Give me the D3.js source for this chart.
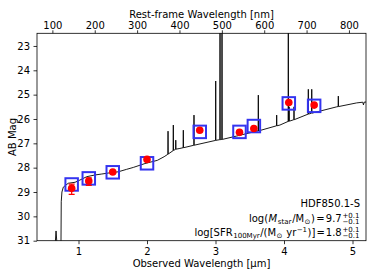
<!DOCTYPE html>
<html><head><meta charset="utf-8">
<script src="https://cdn.jsdelivr.net/npm/d3@7"></script>
<style>
body{margin:0;background:#fff;}
svg{display:block;font-family:"DejaVu Sans",sans-serif;}
</style></head>
<body><svg id="c" width="374" height="280"></svg>
<script>
// ---------------- data ----------------
const redshift = 5.185;
const xTicks = [1, 2, 3, 4, 5];
const restTicks = [100, 200, 300, 400, 500, 600, 700, 800];
const yTicks = [23, 24, 25, 26, 27, 28, 29, 30, 31];

// observed photometry (micron, AB mag, error down, error up)
const photWave = [0.90, 1.15, 1.50, 2.00, 2.77, 3.35, 3.56, 4.07, 4.44];
const photMag  = [28.85, 28.55, 28.18, 27.66, 26.46, 26.55, 26.39, 25.32, 25.43];
const photErrLo = [0.17, 0.13, 0.06, 0.05, 0.04, 0.04, 0.04, 0.04, 0.04];
const photErrHi = [0.25, 0.18, 0.06, 0.05, 0.04, 0.04, 0.04, 0.04, 0.04];
// model photometry (blue squares)
const modelMag = [28.69, 28.44, 28.19, 27.82, 26.53, 26.53, 26.29, 25.36, 25.46];

// model spectrum (micron, AB mag)
const specWave = [0.39, 0.640, 0.672, 0.708, 0.742, 0.748, 0.758, 0.778, 0.85, 0.95, 1.02, 1.12, 1.24, 1.34, 1.46, 1.58, 1.70, 1.80, 1.97, 2.15, 2.25,
  2.304, 2.307, 2.310, 2.381, 2.384, 2.387, 2.417, 2.420, 2.423, 2.48, 2.527, 2.530, 2.533, 2.683, 2.686, 2.689,
  2.70, 3.000, 3.003, 3.006, 3.02, 3.063, 3.066, 3.069, 3.092, 3.095, 3.098, 3.31, 3.60, 3.622, 3.625, 3.628,
  3.890, 3.893, 3.896, 3.94, 4.060, 4.063, 4.066, 4.072, 4.075, 4.078, 4.143, 4.146, 4.149, 4.352, 4.355, 4.358,
  4.402, 4.405, 4.408, 4.77, 4.790, 4.793, 4.796, 5.06, 5.15, 5.16, 5.17, 5.21];
const specMag = [32, 32, 30.6, 32, 32, 29.4, 29.0, 28.8, 28.64, 28.6, 28.51, 28.37, 28.30, 28.26, 28.21, 28.17, 28.07, 27.99, 27.83, 27.70, 27.55,
  27.45, 26.50, 27.44, 27.30, 26.25, 27.29, 27.25, 26.87, 27.24, 27.21, 27.18, 26.46, 27.18, 27.08, 25.84, 27.08,
  27.07, 26.88, 24.44, 26.88, 26.87, 26.85, 21, 26.85, 26.84, 21, 26.84, 26.70, 26.50, 26.49, 25.02, 26.49,
  26.28, 25.84, 26.28, 26.25, 26.10, 21, 26.10, 26.09, 25.50, 26.09, 26.03, 25.50, 26.03, 25.80, 24.78, 25.80,
  25.76, 24.78, 25.76, 25.50, 25.49, 25.06, 25.49, 25.34, 25.31, 25.42, 25.31, 25.30];

const infoLines = ["HDF850.1-S"];

// ---------------- layout ----------------
const L = 37, R = 366, T = 33.3, B = 240.7;
const svg = d3.select("#c");
const x = d3.scaleLinear().domain([0.394, 5.197]).range([L, R]);
const y = d3.scaleLinear().domain([31, 22.48]).range([B, T]);
const xRest = d3.scaleLinear().domain([0.394 / (1 + redshift) * 1000, 5.197 / (1 + redshift) * 1000]).range([L, R]);

svg.append("defs").append("clipPath").attr("id", "clip")
  .append("rect").attr("x", L).attr("y", T).attr("width", R - L).attr("height", B - T);

const plot = svg.append("g").attr("clip-path", "url(#clip)");

// spectrum
const spec = specWave.map((w, i) => [w, specMag[i]]);
plot.append("path").datum(spec)
  .attr("d", d3.line().x(d => x(d[0])).y(d => y(d[1])))
  .attr("fill", "none").attr("stroke", "#000").attr("stroke-width", 0.9);

// model squares
const sq = 12.5;
plot.selectAll("rect.m").data(photWave).enter().append("rect")
  .attr("x", (d) => x(d) - sq / 2)
  .attr("y", (d, i) => y(modelMag[i]) - sq / 2)
  .attr("width", sq).attr("height", sq)
  .attr("fill", "none").attr("stroke", "#3434f0").attr("stroke-width", 2);

// error bars
const eb = plot.append("g").attr("stroke", "#ff0000").attr("stroke-width", 1.2);
photWave.forEach((w, i) => {
  const y1 = y(photMag[i] - photErrLo[i]), y2 = y(photMag[i] + photErrHi[i]);
  eb.append("line").attr("x1", x(w)).attr("x2", x(w)).attr("y1", y1).attr("y2", y2);
  eb.append("line").attr("x1", x(w) - 3).attr("x2", x(w) + 3).attr("y1", y1).attr("y2", y1);
  eb.append("line").attr("x1", x(w) - 3).attr("x2", x(w) + 3).attr("y1", y2).attr("y2", y2);
});
plot.selectAll("circle.p").data(photWave).enter().append("circle")
  .attr("cx", d => x(d)).attr("cy", (d, i) => y(photMag[i])).attr("r", 3.8)
  .attr("fill", "#ff0000");

// axes
function style(g) {
  g.selectAll(".domain").remove();
  g.selectAll(".tick line").attr("stroke", "#000").attr("stroke-width", 0.8);
  g.selectAll(".tick text").attr("font-size", 10).attr("fill", "#000").attr("font-family", "DejaVu Sans");
}
svg.append("g").attr("transform", `translate(0,${B})`)
  .call(d3.axisBottom(x).tickValues(xTicks).tickSize(3.5).tickPadding(3.5).tickFormat(d3.format("d"))).call(style);
svg.append("g").attr("transform", `translate(${L},0)`)
  .call(d3.axisLeft(y).tickValues(yTicks).tickSize(3.5).tickPadding(3.5).tickFormat(d3.format("d"))).call(style);
svg.append("g").attr("transform", `translate(0,${T})`)
  .call(d3.axisTop(xRest).tickValues(restTicks).tickSize(3).tickPadding(1.3).tickFormat(d3.format("d"))).call(style);

svg.append("rect").attr("x", L).attr("y", T).attr("width", R - L).attr("height", B - T)
  .attr("fill", "none").attr("stroke", "#000").attr("stroke-width", 0.8);

// axis titles
svg.append("text").attr("x", (L + R) / 2).attr("y", 266.5).attr("text-anchor", "middle")
  .attr("font-size", 10).text("Observed Wavelength [μm]");
svg.append("text").attr("x", (L + R) / 2).attr("y", 17.6).attr("text-anchor", "middle")
  .attr("font-size", 10).text("Rest-frame Wavelength [nm]");
svg.append("text").attr("transform", `translate(15.5,${(T + B) / 2}) rotate(-90)`).attr("text-anchor", "middle")
  .attr("font-size", 10).text("AB Mag");

// annotation
const rightX = 359.5;
svg.append("text").attr("x", rightX + 0.5).attr("y", 206.7).attr("text-anchor", "end")
  .attr("font-size", 10).text(infoLines[0]);

function mathLine(parts, baseY, supTxt, subTxt) {
  const g = svg.append("g");
  const sup = g.append("text").attr("font-size", 7).attr("y", baseY - 3.6).text(supTxt);
  const sub = g.append("text").attr("font-size", 7).attr("y", baseY + 2.2).text(subTxt);
  const sw = Math.max(sup.node().getComputedTextLength(), sub.node().getComputedTextLength());
  const main = g.append("text").attr("font-size", 10).attr("y", baseY);
  parts.forEach(p => {
    const t = main.append("tspan").text(p.t);
    if (p.sub) t.attr("font-size", 7).attr("dy", 2.2);
    if (p.sup) t.attr("font-size", 7).attr("dy", -3.8);
    if (p.it) t.attr("font-style", "italic");
    if (p.back) t.attr("dy", p.back);
    if (p.dx) t.attr("dx", p.dx);
  });
  const mw = main.node().getComputedTextLength() + parts.reduce((s, p) => s + (p.dx || 0), 0);
  const x0 = rightX - sw - mw - 0.8;
  main.attr("x", x0);
  sup.attr("x", x0 + mw + 0.8);
  sub.attr("x", x0 + mw + 0.8);
}
mathLine([{t:"log("},{t:"M",it:true,dx:0.5},{t:"star",sub:true,dx:0.6},{t:"/M",back:-2.2,dx:0.8},{t:"⊙",sub:true,dx:0.4},{t:")",back:-2.2,dx:0.6},{t:"=",dx:1.2},{t:"9.7",dx:1.2}], 221.5, "+0.1", "−0.1");
mathLine([{t:"log[SFR"},{t:"100Myr",sub:true,dx:0.6},{t:"/(M",back:-2.2,dx:0.6},{t:"⊙",sub:true,dx:0.4},{t:" yr",back:-2.2,dx:0.6},{t:"−1",sup:true,dx:0.4},{t:")]",back:3.8,dx:0.6},{t:"=",dx:1.0},{t:"1.8",dx:1.0}], 236, "+0.1", "−0.1");
</script></body></html>
